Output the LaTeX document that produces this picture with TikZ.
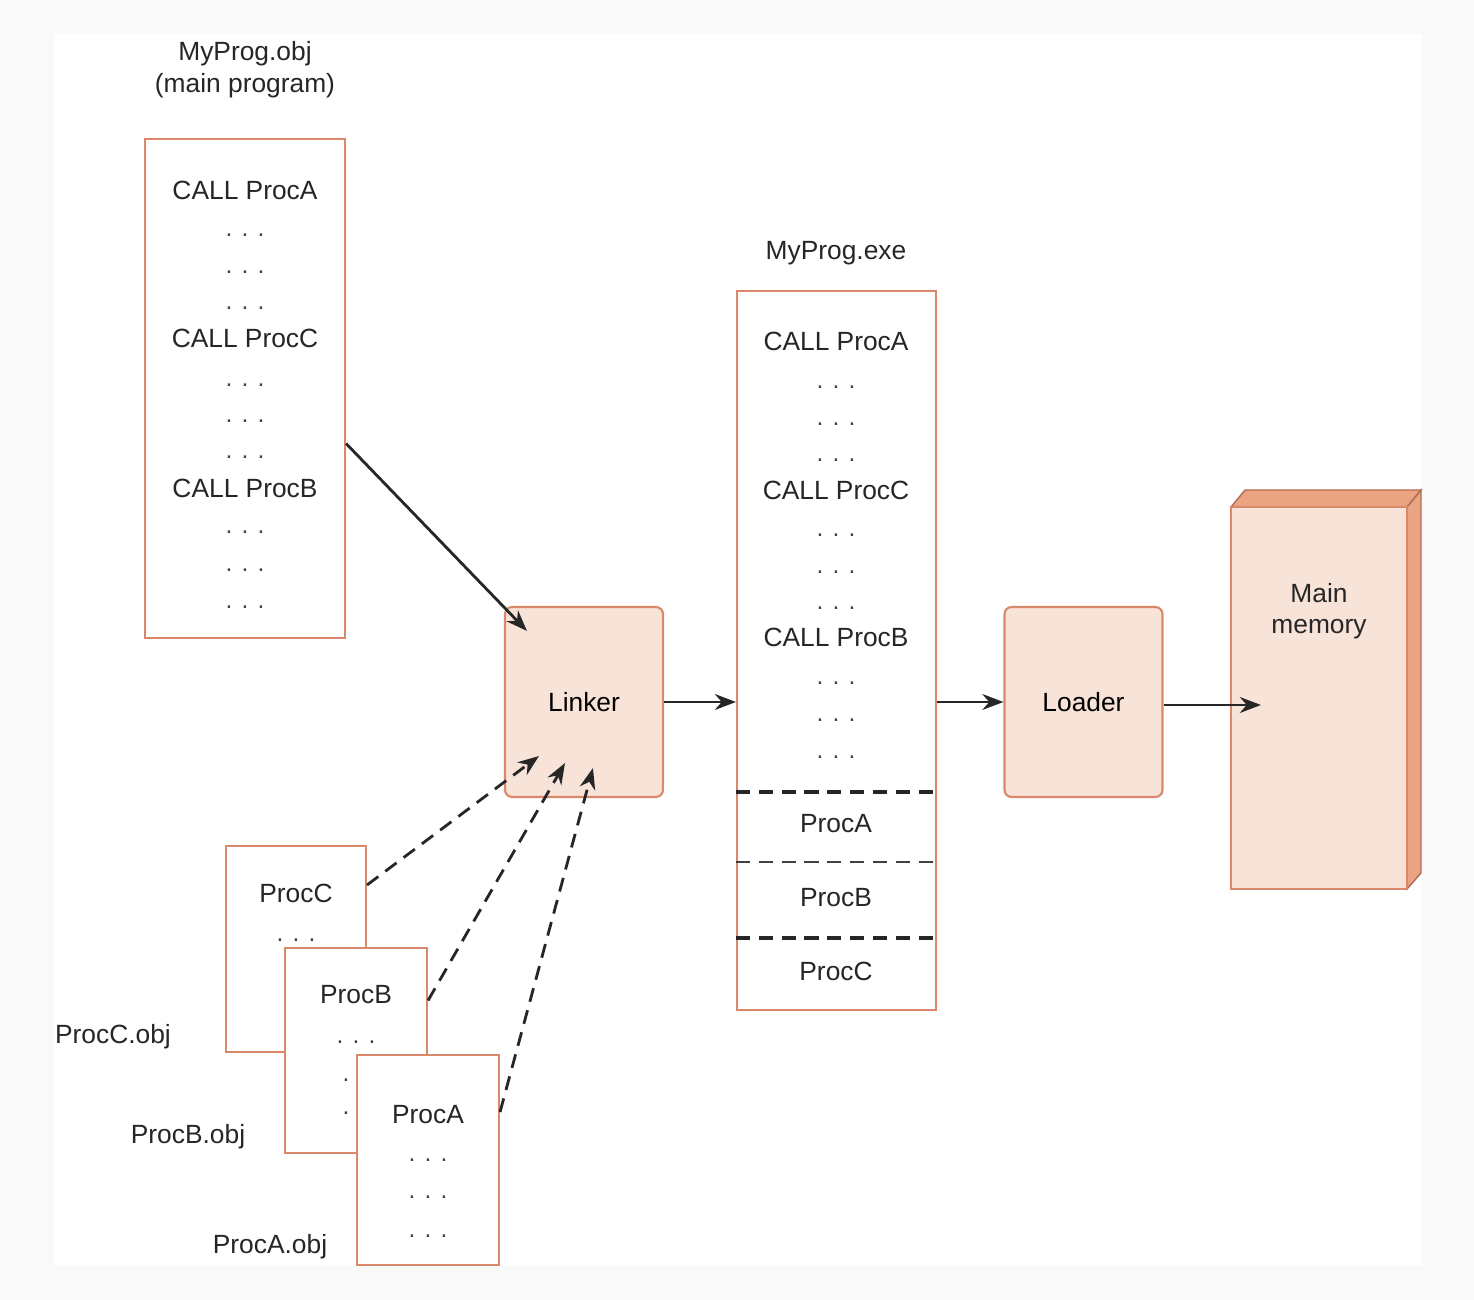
\documentclass[tikz,border=0pt]{standalone}
\usepackage{fontspec}
\setmainfont{Liberation Sans}
\usepackage{tikz}
\usetikzlibrary{arrows.meta,calc,positioning}

\definecolor{edgeor}{HTML}{D9886A}
\definecolor{fillor}{HTML}{F8E3D9}
\definecolor{sideor}{HTML}{EBA482}
\definecolor{pagebg}{HTML}{F9F9F9}

\begin{document}
\begin{tikzpicture}[x=0.02cm,y=-0.02cm,
  objbox/.style={draw=edgeor,line width=1.2pt,fill=white,inner sep=0pt},
  procbox/.style={draw=edgeor,line width=1.2pt,fill=fillor,rounded corners=4pt,inner sep=0pt,
    minimum width=3.16cm,minimum height=3.8cm,font=\fontsize{15}{18}\selectfont},
  txt/.style={inner sep=0pt,font=\fontsize{15}{18}\selectfont,text=black!85},
  dots/.style={inner sep=0pt,font=\fontsize{14}{15}\selectfont,text=black!75},
  arr/.style={-{Stealth[length=12pt,width=9pt]},line width=1.6pt,black!85},
  darr/.style={arr,dashed,dash pattern=on 8pt off 5pt}]

% Page
\fill[pagebg] (0,0) rectangle (1474,1300);
\fill[white] (54,34) rectangle (1422,1266);

% MyProg.obj
\node[txt,align=center] (objlabel) at (245,70) {MyProg.obj\\(main program)};
\node[objbox,minimum width=4cm,minimum height=9.98cm] (myobj) at (245,388.5) {};
\node[txt] (oa) at (245,190) {CALL ProcA};
\node[dots] at (245,235) {. . .};
\node[dots] at (245,272) {. . .};
\node[dots] at (245,308) {. . .};
\node[txt] (oc) at (245,338) {CALL ProcC};
\node[dots] at (245,385) {. . .};
\node[dots] at (245,421) {. . .};
\node[dots] at (245,457) {. . .};
\node[txt] (ob) at (245,488) {CALL ProcB};
\node[dots] at (245,532) {. . .};
\node[dots] at (245,570) {. . .};
\node[dots] at (245,607) {. . .};

% Linker
\node[procbox] (linker) at (584,702) {Linker};
\coordinate (lin) at ($(linker.north west)+(23,25)$);
\draw[arr] ($(myobj.east)+(0,55)$) -- (lin);

% Object modules
\node[objbox,minimum width=2.8cm,minimum height=4.12cm] (pc) at (296,949) {};
\node[txt] (pct) at (296,893) {ProcC};
\node[dots] at (296,940) {. . .};
\node[objbox,minimum width=2.84cm,minimum height=4.1cm] (pb) at (356,1050.5) {};
\node[txt] (pbt) at (356,995) {ProcB};
\node[dots] at (356,1042) {. . .};
\node[dots] at (346,1080) {.};
\node[dots] at (346,1113) {.};
\node[objbox,minimum width=2.84cm,minimum height=4.2cm] (pa) at (428,1160) {};
\node[txt] (pat) at (428,1115) {ProcA};
\node[dots] at (428,1160) {. . .};
\node[dots] at (428,1197) {. . .};
\node[dots] at (428,1236) {. . .};
\node[txt] at (113,1037) {ProcC.obj};
\node[txt] at (188,1137) {ProcB.obj};
\node[txt] at (270,1247) {ProcA.obj};
\draw[darr] ($(pc.east)+(0,-64)$) -- ($(linker.south west)+(35,-42)$);
\draw[darr] ($(pb.east)+(0,-50)$) -- ($(linker.south west)+(61,-35)$);
\draw[darr] ($(pa.east)+(0,-48)$) -- ($(linker.south west)+(89,-30)$);

% MyProg.exe
\node[txt] (exelabel) at (836,253) {MyProg.exe};
\node[objbox,minimum width=3.98cm,minimum height=14.38cm] (exe) at (836.5,650.5) {};
\node[txt] at (836,341) {CALL ProcA};
\node[dots] at (836,387) {. . .};
\node[dots] at (836,424) {. . .};
\node[dots] at (836,460) {. . .};
\node[txt] at (836,490) {CALL ProcC};
\node[dots] at (836,535) {. . .};
\node[dots] at (836,572) {. . .};
\node[dots] at (836,608) {. . .};
\node[txt] at (836,637) {CALL ProcB};
\node[dots] at (836,683) {. . .};
\node[dots] at (836,720) {. . .};
\node[dots] at (836,757) {. . .};
\draw[line width=1.8pt,dash pattern=on 8pt off 5pt,black!85] (exe.west |- 0,792) -- (exe.east |- 0,792);
\node[txt] at (836,824) {ProcA};
\draw[line width=0.9pt,dash pattern=on 8pt off 5pt,black!75] (exe.west |- 0,862) -- (exe.east |- 0,862);
\node[txt] at (836,898) {ProcB};
\draw[line width=1.8pt,dash pattern=on 8pt off 5pt,black!85] (exe.west |- 0,938) -- (exe.east |- 0,938);
\node[txt] at (836,971) {ProcC};
\draw[arr] (linker.east) -- (exe.west |- linker.east);

% Loader
\node[procbox] (loader) at (1083.5,702) {Loader};
\draw[arr] (exe.east |- loader.west) -- (loader.west);

% Main memory
\fill[sideor,draw=edgeor!80!black,line width=0.8pt] (1231,507) -- (1245,490) -- (1421,490) -- (1407,507) -- cycle;
\fill[sideor,draw=edgeor!80!black,line width=0.8pt] (1407,507) -- (1421,490) -- (1421,873) -- (1407,889) -- cycle;
\node[draw=edgeor,line width=1.2pt,fill=fillor,inner sep=0pt,minimum width=3.52cm,minimum height=7.64cm] (mem) at (1319,698) {};
\node[txt,align=center] (memt) at (1319,611) {Main\\memory};
\coordinate (memin) at ($(mem.west)+(31,7)$);
\draw[arr] (loader.east |- memin) -- (memin);
\end{tikzpicture}
\end{document}
